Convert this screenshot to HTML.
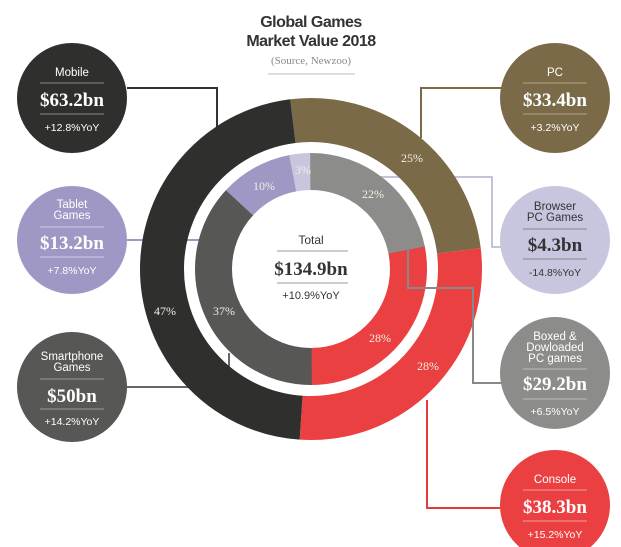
<!DOCTYPE html>
<html><head><style>
html,body{margin:0;padding:0;background:#fff;}
svg{display:block;}
.s{font-family:"Liberation Sans",sans-serif;}
.f{font-family:"Liberation Serif",serif;}
</style></head><body>
<svg width="621" height="547" viewBox="0 0 621 547">
<g text-anchor="middle">
<text x="311" y="27" class="s" font-size="16" font-weight="bold" fill="#333" letter-spacing="-0.5">Global Games</text>
<text x="311" y="46" class="s" font-size="16" font-weight="bold" fill="#333" letter-spacing="-0.5">Market Value 2018</text>
<text x="311" y="64" class="f" font-size="11" fill="#888">(Source, Newzoo)</text>
</g>
<line x1="268" y1="74" x2="355" y2="74" stroke="#bbb" stroke-width="1"/>

<!-- connectors -->
<polyline points="127,88 217,88 217,128" fill="none" stroke="#333" stroke-width="2"/>
<polyline points="501,88 421,88 421,138" fill="none" stroke="#7a6a48" stroke-width="2"/>
<polyline points="127,240 225,240 225,202 240,202" fill="none" stroke="#9f98c4" stroke-width="2"/>
<polyline points="312,177 492,177 492,247 502,247" fill="none" stroke="#c5c3dc" stroke-width="2"/>
<polyline points="127,387 229,387 229,353" fill="none" stroke="#666" stroke-width="2"/>

<!-- outer ring -->
<g transform="translate(311,269)">
<circle r="149" fill="none" stroke="#7a6a48" stroke-width="44" pathLength="100" stroke-dasharray="25 75" transform="rotate(-97)"/>
<circle r="149" fill="none" stroke="#ea4041" stroke-width="44" pathLength="100" stroke-dasharray="28 72" transform="rotate(-7)"/>
<circle r="149" fill="none" stroke="#2f302d" stroke-width="44" pathLength="100" stroke-dasharray="47 53" transform="rotate(93.8)"/>
<circle r="97.5" fill="none" stroke="#c8c6df" stroke-width="37" pathLength="100" stroke-dasharray="3 97" transform="rotate(-100.8)"/>
<circle r="97.5" fill="none" stroke="#8c8c8a" stroke-width="37" pathLength="100" stroke-dasharray="22 78" transform="rotate(-90)"/>
<circle r="97.5" fill="none" stroke="#ea4041" stroke-width="37" pathLength="100" stroke-dasharray="28 72" transform="rotate(-10.8)"/>
<circle r="97.5" fill="none" stroke="#575755" stroke-width="37" pathLength="100" stroke-dasharray="37 63" transform="rotate(90)"/>
<circle r="97.5" fill="none" stroke="#9f98c4" stroke-width="37" pathLength="100" stroke-dasharray="10 90" transform="rotate(223.2)"/>
</g>

<polyline points="408,247 408,288 473,288 473,383 502,383" fill="none" stroke="#888" stroke-width="2"/>
<polyline points="427,400 427,508 502,508" fill="none" stroke="#e03a3a" stroke-width="2"/>

<!-- percentages -->
<g class="f" font-size="12" fill="#f2eee0" text-anchor="middle">
<text x="412" y="162">25%</text>
<text x="303" y="174">3%</text>
<text x="264" y="190">10%</text>
<text x="373" y="198">22%</text>
<text x="165" y="315">47%</text>
<text x="224" y="315">37%</text>
<text x="380" y="342">28%</text>
<text x="428" y="370">28%</text>
</g>

<!-- center -->
<g text-anchor="middle" fill="#333">
<text x="311" y="244" class="s" font-size="12">Total</text>
<line x1="277" y1="251" x2="348" y2="251" stroke="#999"/>
<text x="311" y="275" class="f" font-size="19" font-weight="bold">$134.9bn</text>
<line x1="277" y1="283" x2="348" y2="283" stroke="#999"/>
<text x="311" y="299" class="s" font-size="11">+10.9%YoY</text>
</g>

<!-- bubbles -->
<g text-anchor="middle" fill="#fff">
<ellipse cx="72" cy="98" rx="55" ry="55" fill="#2f302d"/>
<text x="72" y="76" class="s" font-size="11.5">Mobile</text>
<line x1="40" y1="83" x2="104" y2="83" stroke="#888"/>
<text x="72" y="106" class="f" font-size="19" font-weight="bold">$63.2bn</text>
<line x1="40" y1="114" x2="104" y2="114" stroke="#888"/>
<text x="72" y="131" class="s" font-size="10.5">+12.8%YoY</text>

<ellipse cx="555" cy="98" rx="55" ry="55" fill="#7a6a48"/>
<text x="555" y="76" class="s" font-size="11.5">PC</text>
<line x1="523" y1="83" x2="587" y2="83" stroke="#b0a380"/>
<text x="555" y="106" class="f" font-size="19" font-weight="bold">$33.4bn</text>
<line x1="523" y1="114" x2="587" y2="114" stroke="#b0a380"/>
<text x="555" y="131" class="s" font-size="10.5">+3.2%YoY</text>

<ellipse cx="72" cy="240" rx="55" ry="54" fill="#9f98c4"/>
<text x="72" y="208" class="s" font-size="11.5">Tablet</text>
<text x="72" y="219" class="s" font-size="11.5">Games</text>
<line x1="40" y1="227" x2="104" y2="227" stroke="#cfcbe4"/>
<text x="72" y="249" class="f" font-size="19" font-weight="bold">$13.2bn</text>
<line x1="40" y1="257" x2="104" y2="257" stroke="#cfcbe4"/>
<text x="72" y="274" class="s" font-size="10.5">+7.8%YoY</text>

<ellipse cx="555" cy="240" rx="55" ry="54" fill="#c8c6df"/>
<text x="555" y="210" class="s" font-size="11.5" fill="#333">Browser</text>
<text x="555" y="221" class="s" font-size="11.5" fill="#333">PC Games</text>
<line x1="523" y1="229" x2="587" y2="229" stroke="#888"/>
<text x="555" y="251" class="f" font-size="19" font-weight="bold" fill="#333">$4.3bn</text>
<line x1="523" y1="259" x2="587" y2="259" stroke="#888"/>
<text x="555" y="276" class="s" font-size="10.5" fill="#333">-14.8%YoY</text>

<ellipse cx="555" cy="373" rx="55" ry="56" fill="#8c8c8a"/>
<text x="555" y="340" class="s" font-size="11.5">Boxed &amp;</text>
<text x="555" y="351" class="s" font-size="11.5">Dowloaded</text>
<text x="555" y="362" class="s" font-size="11.5">PC games</text>
<line x1="523" y1="369" x2="587" y2="369" stroke="#bbb"/>
<text x="555" y="390" class="f" font-size="19" font-weight="bold">$29.2bn</text>
<line x1="523" y1="399" x2="587" y2="399" stroke="#bbb"/>
<text x="555" y="415" class="s" font-size="10.5">+6.5%YoY</text>

<ellipse cx="72" cy="387" rx="55" ry="55" fill="#575755"/>
<text x="72" y="360" class="s" font-size="11.5">Smartphone</text>
<text x="72" y="371" class="s" font-size="11.5">Games</text>
<line x1="40" y1="379" x2="104" y2="379" stroke="#999"/>
<text x="72" y="402" class="f" font-size="19" font-weight="bold">$50bn</text>
<line x1="40" y1="409" x2="104" y2="409" stroke="#999"/>
<text x="72" y="425" class="s" font-size="10.5">+14.2%YoY</text>

<ellipse cx="555" cy="505" rx="55" ry="55" fill="#ea4041"/>
<text x="555" y="483" class="s" font-size="11.5">Console</text>
<line x1="523" y1="490" x2="587" y2="490" stroke="#f39a9a"/>
<text x="555" y="513" class="f" font-size="19" font-weight="bold">$38.3bn</text>
<line x1="523" y1="521" x2="587" y2="521" stroke="#f39a9a"/>
<text x="555" y="538" class="s" font-size="10.5">+15.2%YoY</text>
</g>
</svg>
</body></html>
